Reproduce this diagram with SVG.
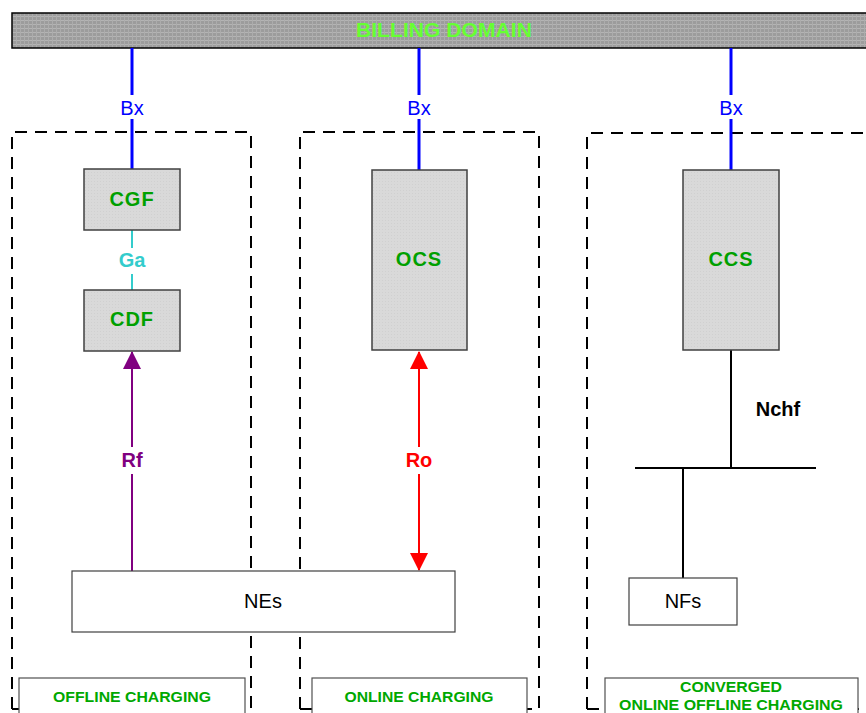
<svg xmlns="http://www.w3.org/2000/svg" width="866" height="713" viewBox="0 0 866 713">
<defs>
<pattern id="mesh" width="4" height="4" patternUnits="userSpaceOnUse">
<rect width="4" height="4" fill="#9c9c9c"/>
<rect x="0" y="0" width="4" height="1" fill="#b4b4b4"/>
<rect x="0" y="0" width="1" height="4" fill="#acacac"/>
</pattern>
<pattern id="stip" width="3" height="3" patternUnits="userSpaceOnUse">
<rect width="3" height="3" fill="#d9d9d9"/>
<rect x="1" y="1" width="1" height="1" fill="#d0d0d0"/>
</pattern>
<marker id="ahP" viewBox="0 0 18 18" refX="17" refY="9" markerWidth="18" markerHeight="18" markerUnits="userSpaceOnUse" orient="auto-start-reverse">
<path d="M0,0 L18,9 L0,18 Z" fill="#800080"/>
</marker>
<marker id="ahR" viewBox="0 0 18 18" refX="17" refY="9" markerWidth="18" markerHeight="18" markerUnits="userSpaceOnUse" orient="auto-start-reverse">
<path d="M0,0 L18,9 L0,18 Z" fill="#ff0000"/>
</marker>
</defs>
<style>
.dash{fill:none;stroke:#000;stroke-width:2;stroke-dasharray:12 8}
.node{fill:url(#stip);stroke:#404040;stroke-width:1.5}
.wbox{fill:#fff;stroke:#404040;stroke-width:1.2}
.lbl{fill:#fff;stroke:#505050;stroke-width:1.2}
.nt{font-family:"Liberation Sans",Arial,sans-serif;font-size:20px;font-weight:bold;fill:#00a000;text-anchor:middle;letter-spacing:1px}
.bt{font-family:"Liberation Sans",Arial,sans-serif;font-size:15px;font-weight:bold;fill:#00a800;text-anchor:middle}
.ct{font-family:"Liberation Sans",Arial,sans-serif;font-size:20px;text-anchor:middle}
.bx{stroke:#0000ff;stroke-width:3;fill:none}
.gap{fill:#fff}
</style>
<g id="billing">
<rect x="12" y="13" width="860" height="35" fill="url(#mesh)" stroke="#000" stroke-width="1.5"/>
<text x="444" y="37" font-family="Liberation Sans,Arial,sans-serif" font-size="20" font-weight="bold" fill="#66ff33" text-anchor="middle" textLength="176" lengthAdjust="spacingAndGlyphs">BILLING DOMAIN</text>
</g>
<g id="domains">
<path class="dash" d="M12,709 V132 H251 V709"/>
<path class="dash" d="M300,709 V132 H539 V709"/>
<path class="dash" d="M587,709 V133 H870"/>
<path class="dash" d="M12,709 H252"/>
<path class="dash" d="M300,709 H539"/>
<path class="dash" d="M587,709 H870"/>
</g>
<g id="connectors">
<line class="bx" x1="132" y1="48" x2="132" y2="170"/>
<line class="bx" x1="419" y1="48" x2="419" y2="170"/>
<line class="bx" x1="731" y1="48" x2="731" y2="170"/>
<rect class="gap" x="115" y="95" width="34" height="24"/>
<rect class="gap" x="402" y="95" width="34" height="24"/>
<rect class="gap" x="714" y="95" width="34" height="24"/>
<text class="ct" x="132" y="115" fill="#0000ff">Bx</text>
<text class="ct" x="419" y="115" fill="#0000ff">Bx</text>
<text class="ct" x="731" y="115" fill="#0000ff">Bx</text>
<line x1="132" y1="230" x2="132" y2="290" stroke="#33cccc" stroke-width="2"/>
<rect class="gap" x="112" y="248" width="40" height="26"/>
<text class="ct" x="132" y="267" fill="#33cccc" font-weight="bold">Ga</text>
<line x1="132" y1="571" x2="132" y2="352" stroke="#800080" stroke-width="2" marker-end="url(#ahP)"/>
<rect class="gap" x="115" y="447" width="34" height="27"/>
<text class="ct" x="132" y="467" fill="#800080" font-weight="bold">Rf</text>
<line x1="419" y1="570" x2="419" y2="352" stroke="#ff0000" stroke-width="2" marker-start="url(#ahR)" marker-end="url(#ahR)"/>
<rect class="gap" x="402" y="447" width="34" height="27"/>
<text class="ct" x="419" y="467" fill="#ff0000" font-weight="bold">Ro</text>
<line x1="731" y1="350" x2="731" y2="468" stroke="#000" stroke-width="2"/>
<line x1="635" y1="468" x2="816" y2="468" stroke="#000" stroke-width="2"/>
<line x1="683" y1="468" x2="683" y2="578" stroke="#000" stroke-width="2"/>
<text class="ct" x="778" y="416" fill="#000" font-weight="bold">Nchf</text>
</g>
<g id="CGF">
<rect class="node" x="84" y="169" width="96" height="61"/>
<text class="nt" x="132" y="206">CGF</text>
</g>
<g id="CDF">
<rect class="node" x="84" y="290" width="96" height="61"/>
<text class="nt" x="132" y="326">CDF</text>
</g>
<g id="OCS">
<rect class="node" x="372" y="170" width="95" height="180"/>
<text class="nt" x="419" y="266">OCS</text>
</g>
<g id="CCS">
<rect class="node" x="683" y="170" width="96" height="180"/>
<text class="nt" x="731" y="266">CCS</text>
</g>
<g id="NEs">
<rect class="wbox" x="72" y="571" width="383" height="61"/>
<text class="ct" x="263" y="608" fill="#000">NEs</text>
</g>
<g id="NFs">
<rect class="wbox" x="629" y="578" width="108" height="47"/>
<text class="ct" x="683" y="608" fill="#000">NFs</text>
</g>
<g id="offline-label">
<rect class="lbl" x="19" y="678" width="226" height="40"/>
<text class="bt" x="132" y="702" textLength="158" lengthAdjust="spacingAndGlyphs">OFFLINE CHARGING</text>
</g>
<g id="online-label">
<rect class="lbl" x="312" y="678" width="215" height="40"/>
<text class="bt" x="419" y="702" textLength="149" lengthAdjust="spacingAndGlyphs">ONLINE CHARGING</text>
</g>
<g id="converged-label">
<rect class="lbl" x="605" y="678" width="253" height="40"/>
<text class="bt" x="731" y="692" textLength="102" lengthAdjust="spacingAndGlyphs">CONVERGED</text>
<text class="bt" x="731" y="710" textLength="224" lengthAdjust="spacingAndGlyphs">ONLINE OFFLINE CHARGING</text>
</g>
</svg>
